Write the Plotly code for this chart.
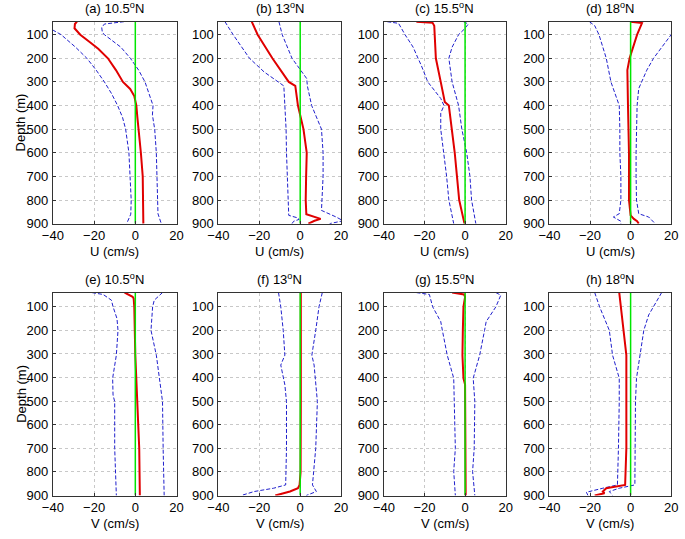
import plotly.graph_objects as go

# ---------------- data (depth in m, velocity in cm/s) ----------------
panel_titles = ["(a) 10.5<sup>o</sup>N", "(b) 13<sup>o</sup>N", "(c) 15.5<sup>o</sup>N", "(d) 18<sup>o</sup>N",
                "(e) 10.5<sup>o</sup>N", "(f) 13<sup>o</sup>N", "(g) 15.5<sup>o</sup>N", "(h) 18<sup>o</sup>N"]
x_ticks = [-40, -20, 0, 20]
y_ticks = [100, 200, 300, 400, 500, 600, 700, 800, 900]

# (a) U 10.5N
a_mean_z = [45, 55, 73, 100, 132, 160, 200, 250, 300, 330, 360, 400, 450, 500, 600, 700, 800, 900]
a_mean = [-28.3, -29.3, -29.5, -26.7, -22, -18, -13.3, -9.4, -6, -2.5, -0.5, 0.5, 1.0, 1.6, 2.7, 3.6, 3.9, 3.9]
a_lo_z = [45, 60, 83, 100, 153, 200, 250, 300, 350, 400, 450, 500, 600, 700, 800, 860, 900]
a_lo = [-48, -44, -39.5, -36, -29, -23.5, -19, -15, -11.5, -8.6, -6.2, -4.7, -3.1, -2.4, -2, -2.2, -4.2]
a_hi_z = [45, 50, 55, 70, 90, 100, 153, 200, 250, 300, 355, 400, 440, 500, 600, 700, 800, 858, 900]
a_hi = [-5.5, -11, -15, -16.3, -16, -15, -7, -2.4, 1.6, 4.7, 7, 8.6, 8.3, 9.4, 10.2, 10.5, 10.5, 11, 12.6]

# (b) U 13N
b_mean_z = [45, 100, 200, 300, 317, 400, 500, 600, 700, 800, 860, 870, 880, 888, 900]
b_mean = [-23.7, -20.8, -13.6, -5.6, -2.4, -1.1, 1.6, 3.2, 2.9, 2.7, 3.0, 6.0, 10.0, 7.0, 4.0]
b_lo_z = [45, 100, 200, 258, 317, 400, 500, 600, 700, 800, 865, 875, 882, 890, 900]
b_lo = [-36.8, -32.8, -24.8, -17.6, -8, -7.5, -6.9, -6.7, -6.4, -6.1, -5.6, -1.5, -0.5, -3.2, -4]
b_hi_z = [45, 100, 200, 286, 317, 400, 500, 600, 700, 800, 844, 872, 888, 900]
b_hi = [-10.4, -8.8, -4, 3.2, 3.5, 5.6, 10.4, 11.2, 11.2, 10.4, 10.4, 17.6, 21, 14.4]

# (c) U 15.5N
c_mean_z = [45, 50, 62, 100, 200, 300, 385, 400, 500, 600, 700, 800, 900]
c_mean = [-24, -16, -15.2, -14.9, -14.4, -12, -10, -8, -6.4, -5.1, -4, -2.9, -0.3]
c_lo_z = [45, 52, 100, 153, 200, 230, 300, 370, 400, 432, 500, 600, 700, 800, 900]
c_lo = [-38.4, -32.8, -29.6, -25.6, -23.2, -21.6, -18.4, -12, -10.4, -12, -12, -10.4, -9.1, -8, -5.6]
c_hi_z = [45, 55, 76, 100, 153, 200, 300, 400, 500, 600, 700, 800, 900]
c_hi = [-0.8, 1.6, -0.3, -3.2, -6.4, -8, -6.4, -3.2, -1.6, 0.8, 2.4, 3.2, 5.3]

# (d) U 18N
d_mean_z = [45, 51, 100, 174, 200, 250, 300, 400, 600, 800, 865, 880, 890, 900]
d_mean = [0, 5.6, 3.2, 0.5, -0.5, -1.6, -1.6, -1.3, -0.8, -0.8, 0, 1.6, 3.2, 4]
d_lo_z = [45, 62, 100, 200, 300, 400, 500, 600, 700, 800, 858, 872, 890, 900]
d_lo = [-20.3, -17.7, -15.6, -12, -9.7, -5.6, -5.3, -5.3, -4.8, -4.8, -5.6, -8.5, -4.8, -4.8]
d_hi_z = [45, 70, 100, 153, 200, 250, 328, 400, 500, 600, 700, 800, 858, 872, 900]
d_hi = [27, 23.5, 20, 15.3, 11.3, 8, 4, 3.2, 2.9, 2.7, 2.7, 2.9, 4, 8.9, 12.1]

# (e) V 10.5N
e_mean_z = [40, 58, 65, 100, 305, 502, 700, 900]
e_mean = [-5.2, -1.3, -0.8, -0.5, 0, 1.1, 1.9, 2.2]
e_lo_z = [40, 48, 72, 100, 150, 200, 305, 403, 474, 502, 700, 900]
e_lo = [-21, -15.6, -11.6, -10.8, -8.9, -8.4, -9.2, -11, -10.8, -10, -10, -9.2]
e_hi_z = [40, 72, 100, 200, 305, 403, 502, 700, 900]
e_hi = [13.2, 9.2, 8.4, 7.6, 10.2, 11.8, 13.2, 13.5, 14]

# (f) V 13N
f_mean_z = [40, 200, 500, 800, 855, 869, 883, 900]
f_mean = [0.3, 0.4, 0.3, 0.2, -0.3, -1.1, -5, -12.2]
f_lo_z = [40, 100, 200, 305, 347, 431, 502, 700, 855, 869, 883, 900]
f_lo = [-10.6, -9.5, -8.3, -7.5, -9.5, -7.5, -6.7, -6.7, -7.1, -13, -22.5, -28.9]
f_hi_z = [40, 100, 200, 305, 347, 431, 502, 700, 855, 883, 900]
f_hi = [10.8, 9.2, 7.6, 5.7, 6.8, 7.6, 8.4, 7.6, 6, 7.9, 2.9]

# (g) V 15.5N
g_mean_z = [40, 48, 58, 100, 200, 305, 403, 430, 900]
g_mean = [-6.4, -0.5, 0, -0.8, -1.1, -1.3, -0.8, 0, 0.3]
g_lo_z = [40, 48, 100, 163, 200, 305, 403, 502, 700, 798, 900]
g_lo = [-24, -17.6, -16, -12, -11.2, -8.8, -5.6, -5.3, -4.8, -5.6, -4.8]
g_hi_z = [40, 51, 100, 163, 200, 305, 403, 502, 700, 798, 900]
g_hi = [15.2, 17.6, 15.2, 10.4, 9.6, 7.2, 4, 4.8, 4.5, 3.7, 4.8]

# (h) V 18N
h_mean_z = [40, 100, 150, 200, 305, 502, 700, 855, 869, 883, 890, 900]
h_mean = [-5.6, -4.8, -4, -3.2, -2.1, -2.1, -2.1, -2.7, -12, -13.7, -12.9, -17.7]
h_lo_z = [40, 100, 200, 305, 403, 502, 700, 855, 869, 886, 900]
h_lo = [-17.7, -15.3, -10.5, -8.9, -5.6, -5.6, -6, -6.5, -13.7, -21.8, -21]
h_hi_z = [40, 65, 100, 135, 200, 305, 403, 502, 700, 855, 869, 883, 900]
h_hi = [15.3, 13.7, 11.3, 8.9, 6.5, 4.8, 2.9, 2.4, 2.4, 2.1, -5.6, -10.5, -8.9]

panels = [
    (a_mean_z, a_mean, a_lo_z, a_lo, a_hi_z, a_hi),
    (b_mean_z, b_mean, b_lo_z, b_lo, b_hi_z, b_hi),
    (c_mean_z, c_mean, c_lo_z, c_lo, c_hi_z, c_hi),
    (d_mean_z, d_mean, d_lo_z, d_lo, d_hi_z, d_hi),
    (e_mean_z, e_mean, e_lo_z, e_lo, e_hi_z, e_hi),
    (f_mean_z, f_mean, f_lo_z, f_lo, f_hi_z, f_hi),
    (g_mean_z, g_mean, g_lo_z, g_lo, g_hi_z, g_hi),
    (h_mean_z, h_mean, h_lo_z, h_lo, h_hi_z, h_hi),
]

# ---------------- layout ----------------
W, H = 685, 539
FONT = "Arial, Liberation Sans, sans-serif"
FS = 13
col_px = [(43, 170), (213, 339), (383, 508), (553, 678)]
row_px = [(22, 227), (297, 503)]
row_top_depth = [45, 40]

fig = go.Figure()
layout = dict(
    width=W, height=H, margin=dict(l=0, r=0, t=0, b=0),
    paper_bgcolor="white", plot_bgcolor="white", showlegend=False,
    font=dict(family=FONT, size=FS, color="black"),
)
annotations = []

for i, (mz, mv, lz, lv, hz, hv) in enumerate(panels):
    r, c = divmod(i, 4)
    k = i + 1
    xa = "x" if k == 1 else f"x{k}"
    ya = "y" if k == 1 else f"y{k}"
    x0, x1 = col_px[c]
    y0, y1 = row_px[r]
    top = row_top_depth[r]
    fig.add_trace(go.Scatter(x=lv, y=lz, mode="lines", xaxis=xa, yaxis=ya,
                             line=dict(color="#2020cc", width=1, dash="4px,2px")))
    fig.add_trace(go.Scatter(x=hv, y=hz, mode="lines", xaxis=xa, yaxis=ya,
                             line=dict(color="#2020cc", width=1, dash="4px,2px")))
    fig.add_trace(go.Scatter(x=mv, y=mz, mode="lines", xaxis=xa, yaxis=ya,
                             line=dict(color="#e00000", width=2)))
    fig.add_trace(go.Scatter(x=[0, 0], y=[top, 900], mode="lines", xaxis=xa, yaxis=ya,
                             line=dict(color="#00e600", width=1.5)))
    axcommon = dict(showline=True, linecolor="#333", linewidth=1, mirror=True,
                    ticks="inside", ticklen=3, tickcolor="#333",
                    showgrid=True, gridcolor="#c8c8c8", griddash="dot", gridwidth=1,
                    zeroline=False, tickfont=dict(family=FONT, size=FS, color="black"))
    layout["xaxis" if k == 1 else f"xaxis{k}"] = dict(
        domain=[x0 / W, x1 / W], range=[-40, 20], tickvals=x_ticks, anchor=ya, **axcommon)
    layout["yaxis" if k == 1 else f"yaxis{k}"] = dict(
        domain=[1 - y1 / H, 1 - y0 / H], range=[900, top], tickvals=y_ticks, anchor=xa,
        ticklabelstandoff=1, **axcommon)
    xc = (x0 + x1) / 2 / W
    annotations.append(dict(text=panel_titles[i], x=xc, y=1 - (y0 - 14) / H, xref="paper", yref="paper",
                            showarrow=False, xanchor="center", yanchor="middle",
                            font=dict(family=FONT, size=FS, color="black")))
    annotations.append(dict(text="U (cm/s)" if r == 0 else "V (cm/s)", x=xc, y=1 - (y1 + 28) / H,
                            xref="paper", yref="paper", showarrow=False,
                            xanchor="center", yanchor="middle",
                            font=dict(family=FONT, size=FS, color="black")))
    if c == 0:
        annotations.append(dict(text="Depth (m)", x=10 / W, y=1 - (y0 + y1) / 2 / H, xref="paper",
                                yref="paper", showarrow=False, textangle=-90,
                                xanchor="center", yanchor="middle",
                                font=dict(family=FONT, size=FS, color="black")))

layout["annotations"] = annotations
fig.update_layout(**layout)
fig.write_html("out.html", config={"displayModeBar": False},
               post_script="document.body.style.margin='0';document.body.style.padding='0';")
